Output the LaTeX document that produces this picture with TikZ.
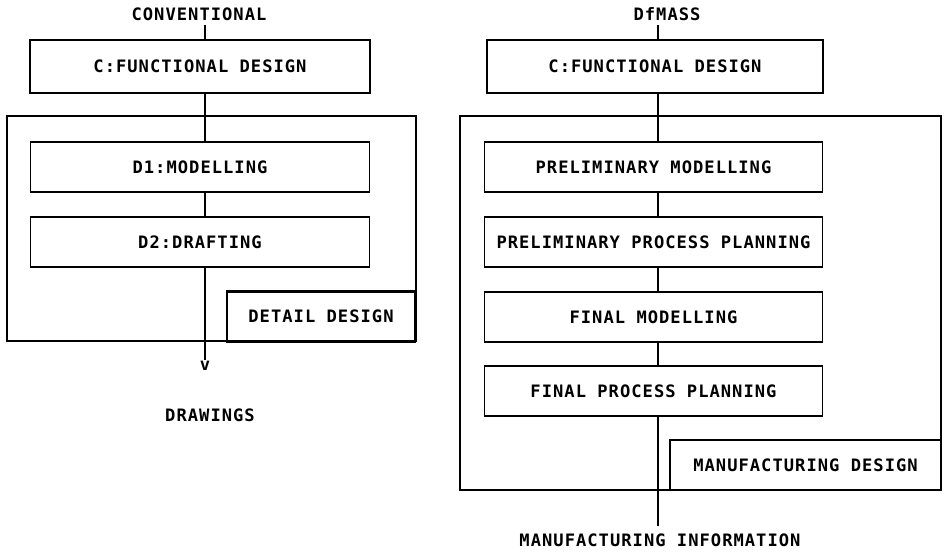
\documentclass[tikz,border=0pt]{standalone}
\usepackage{fontspec}
\newfontfamily\plotfont{DejaVu Sans Mono Bold}[LetterSpace=6]
\usepackage{tikz}
\usetikzlibrary{positioning}

\begin{document}
\begin{tikzpicture}[x=0.03cm,y=-0.03cm,
  font=\plotfont\fontsize{14.6}{16}\selectfont,
  heavy/.style={line width=2.3pt},
  topbox/.style={draw,heavy,minimum width=10.2cm,minimum height=1.59cm,inner sep=0pt},
  stepbox/.style={draw,line width=1.1pt,minimum width=10.15cm,minimum height=1.5cm,inner sep=0pt},
  tagbox/.style={draw,heavy,minimum height=1.5cm,inner sep=0pt},
  link/.style={line width=0.9pt}]
 \useasboundingbox (0,0) rectangle (946,553);
 \coordinate (lx) at (205,0);
 \coordinate (rx) at (658,0);

 % conventional route
 \node (conv) at (199,14) {CONVENTIONAL};
 \node[topbox] (lfun) at (200,66.5) {C:FUNCTIONAL DESIGN};
 \draw[heavy] (7,116) rectangle (416,341);
 \node[stepbox] (model) at (200,167) {D1:MODELLING};
 \node[stepbox] (draft) at (200,242) {D2:DRAFTING};
 \node[tagbox,minimum width=5.64cm] (detail) at (321,316.5) {DETAIL DESIGN};
 \node[inner sep=1pt] (tip) at (205,366) {v};
 \node (drawings) at (210,415) {DRAWINGS};
 \draw[link] (conv.south -| lx) -- (lfun.north -| lx);
 \draw[link] (lfun.south -| lx) -- (model.north -| lx);
 \draw[link] (model.south -| lx) -- (draft.north -| lx);
 \draw[link] (draft.south -| lx) -- (tip);

 % DfMASS route
 \node (dfm) at (667,14) {DfMASS};
 \node[topbox,minimum width=10.08cm] (rfun) at (655,66.5) {C:FUNCTIONAL DESIGN};
 \draw[heavy] (460,116) rectangle (941,490);
 \node[stepbox] (pmod) at (653.5,167) {PRELIMINARY MODELLING};
 \node[stepbox] (pplan) at (653.5,242) {PRELIMINARY PROCESS PLANNING};
 \node[stepbox] (fmod) at (653.5,317) {FINAL MODELLING};
 \node[stepbox] (fplan) at (653.5,391) {FINAL PROCESS PLANNING};
 \node[tagbox,minimum width=8.13cm] (mdes) at (805.5,465) {MANUFACTURING DESIGN};
 \node (minfo) at (660,540) {MANUFACTURING INFORMATION};
 \draw[link] (dfm.south -| rx) -- (rfun.north -| rx);
 \draw[link] (rfun.south -| rx) -- (pmod.north -| rx);
 \draw[link] (pmod.south -| rx) -- (pplan.north -| rx);
 \draw[link] (pplan.south -| rx) -- (fmod.north -| rx);
 \draw[link] (fmod.south -| rx) -- (fplan.north -| rx);
 \draw[link] (fplan.south -| rx) -- ([yshift=3pt]minfo.north -| rx);
\end{tikzpicture}
\end{document}
